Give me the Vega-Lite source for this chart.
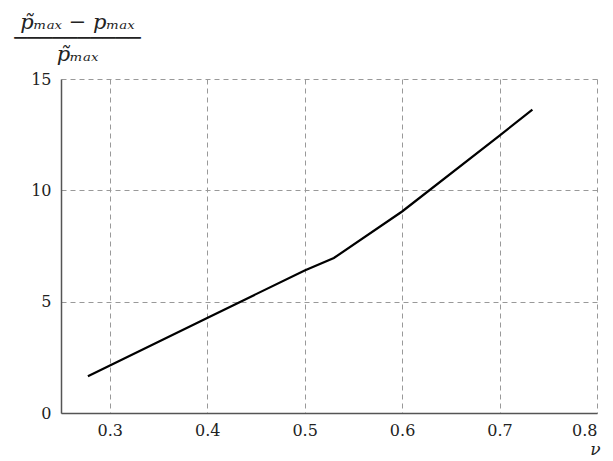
{
  "$schema": "https://vega.github.io/schema/vega-lite/v6.json",
  "width": 536,
  "height": 334,
  "autosize": {"type": "none"},
  "padding": {"left": 61, "top": 79, "right": 16, "bottom": 48},
  "background": "white",
  "config": {
    "view": {"stroke": null},
    "font": "DejaVu Serif",
    "axis": {
      "labelFont": "DejaVu Serif",
      "labelFontSize": 16,
      "labelColor": "#222",
      "titleFont": "DejaVu Serif",
      "titleColor": "#222",
      "titleFontWeight": "normal",
      "domainColor": "#555",
      "domainWidth": 1.5,
      "ticks": false,
      "gridColor": "#999",
      "gridDash": [5, 4],
      "gridWidth": 1
    }
  },
  "data": {
    "values": [
      {"nu": 0.2776, "r": 1.65},
      {"nu": 0.4, "r": 4.27},
      {"nu": 0.5, "r": 6.4},
      {"nu": 0.53, "r": 6.96},
      {"nu": 0.6, "r": 9.05},
      {"nu": 0.7, "r": 12.46},
      {"nu": 0.7337, "r": 13.62}
    ]
  },
  "mark": {"type": "line", "color": "black", "strokeWidth": 2.2},
  "encoding": {
    "x": {
      "field": "nu",
      "type": "quantitative",
      "scale": {"domain": [0.25, 0.8], "nice": false, "zero": false},
      "axis": {
        "values": [0.3, 0.4, 0.5, 0.6, 0.7, 0.8],
        "format": ".1f",
        "labelPadding": 9,
        "title": "ν",
        "titleFontStyle": "italic",
        "titleFontSize": 17,
        "titleAnchor": "end",
        "titleAlign": "center",
        "titleX": 534,
        "titleY": 28,
        "titleBaseline": "top"
      }
    },
    "y": {
      "field": "r",
      "type": "quantitative",
      "scale": {"domain": [0, 15], "nice": false},
      "axis": {
        "values": [0, 5, 10, 15],
        "labelPadding": 10,
        "title": ["p̃ₘₐₓ − pₘₐₓ", "──────────", "p̃ₘₐₓ"],
        "titleFontSize": 21,
        "titleFontStyle": "italic",
        "titleAngle": 0,
        "titleAlign": "center",
        "titleBaseline": "top",
        "titleLineHeight": 16,
        "titleX": 16,
        "titleY": -68
      }
    }
  }
}
